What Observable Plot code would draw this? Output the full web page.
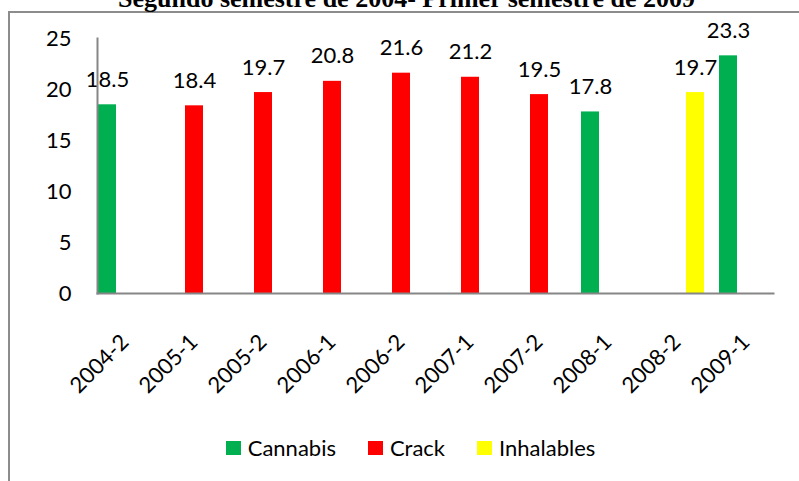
<!DOCTYPE html>
<html>
<head>
<meta charset="utf-8">
<script src="https://cdn.jsdelivr.net/npm/d3@7"></script>
<script src="https://cdn.jsdelivr.net/npm/@observablehq/plot@0.6"></script>
<style>
  html, body { margin: 0; padding: 0; background: #fff; }
  #wrap { position: relative; width: 799px; height: 481px; overflow: hidden; background: #fff; }
  #border { position: absolute; left: 8px; top: 11px; width: 1000px; height: 1000px;
            border-left: 2px solid #8c8c8c; border-top: 2px solid #8c8c8c; }
  #title { position: absolute; left: 7px; width: 799px; top: -16px; text-align: center; white-space: nowrap;
           font-family: "Liberation Serif", "Times New Roman", serif; font-weight: bold; font-size: 26px; color: #000; line-height: 30px; }
  #chart { position: absolute; left: 0; top: 0; }
  #legend { position: absolute; top: 434px; left: 0; width: 799px; display: flex; justify-content: center; gap: 32px;
            font-family: Lato, sans-serif; font-size: 22px; color: #000; padding-left: 22px; box-sizing: border-box; }
  .item { display: flex; align-items: center; gap: 7px; }
  .sw { width: 15px; height: 14px; display: inline-block; }
</style>
</head>
<body>
<div id="wrap">
  <div id="border"></div>
  <div id="chart"></div>
  <div id="title"></div>
  <div id="legend"></div>
</div>
<script>
const titleText = "Segundo semestre de 2004- Primer semestre de 2009";
const periods = ["2004-2","2005-1","2005-2","2006-1","2006-2","2007-1","2007-2","2008-1","2008-2","2009-1"];
const series = ["Cannabis","Crack","Inhalables"];
const colors = ["#00B050","#FF0000","#FFFF00"];
const cannabis   = [18.5, null, null, null, null, null, null, 17.8, null, 23.3];
const crack      = [null, 18.4, 19.7, 20.8, 21.6, 21.2, 19.5, null, null, null];
const inhalables = [null, null, null, null, null, null, null, null, 19.7, null];
const yTicks = [0, 5, 10, 15, 20, 25];

const valuesBySeries = [cannabis, crack, inhalables];
const rows = [];
series.forEach((s, si) => {
  valuesBySeries[si].forEach((v, i) => {
    if (v != null) rows.push({period: periods[i], series: s, value: v});
  });
});

document.getElementById("title").textContent = titleText;

const chart = Plot.plot({
  width: 799,
  height: 481,
  marginLeft: 88,
  marginRight: 16,
  marginTop: 38,
  marginBottom: 188,
  style: {fontFamily: "Lato, sans-serif", fontSize: "22px", color: "#000", background: "transparent"},
  fx: {domain: periods, paddingInner: 0.2, paddingOuter: 0.1, label: null, tickRotate: -45, tickSize: 0, tickPadding: 45},
  x: {domain: series, axis: null, padding: 0},
  y: {domain: [0, 25], ticks: yTicks, tickSize: 0, tickPadding: 26, label: null},
  color: {domain: series, range: colors},
  marks: [
    Plot.barY(rows, {fx: "period", x: "series", y: "value", fill: "series"}),
    Plot.text(rows, {fx: "period", x: "series", y: "value", text: d => d.value.toFixed(1), dy: -25, fontSize: 22, fill: "#000"}),
    Plot.frame({anchor: "left", facet: "super", stroke: "#868686", strokeWidth: 2}),
    Plot.frame({anchor: "bottom", facet: "super", stroke: "#868686", strokeWidth: 2})
  ]
});
document.getElementById("chart").appendChild(chart);

const legend = document.getElementById("legend");
series.forEach((s, i) => {
  const item = document.createElement("div");
  item.className = "item";
  const sw = document.createElement("span");
  sw.className = "sw";
  sw.style.background = colors[i];
  const lab = document.createElement("span");
  lab.textContent = s;
  item.appendChild(sw);
  item.appendChild(lab);
  legend.appendChild(item);
});
</script>
</body>
</html>
